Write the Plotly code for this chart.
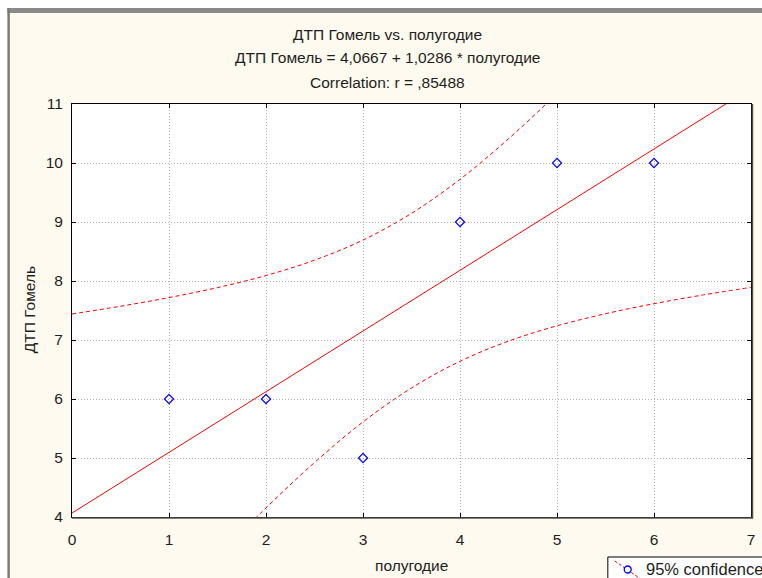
import plotly.graph_objects as go

# ---- data ----
x_points = [1, 2, 3, 4, 5, 6]
y_points = [6, 6, 5, 9, 10, 10]

reg_x = [0, 7]
reg_y = [4.0667, 11.2669]

band_x = [0, 0.5, 1, 1.5, 2, 2.5, 3, 3.5, 4, 4.5, 5, 5.5, 6, 6.5, 7]
band_upper = [7.441, 7.572, 7.719, 7.888, 8.093, 8.353, 8.694, 9.147,
              9.723, 10.410, 11.179, 12.003, 12.862, 13.744, 14.641]
band_lower = [0.692, 1.590, 2.472, 3.331, 4.154, 4.923, 5.611, 6.187,
              6.639, 6.981, 7.240, 7.445, 7.615, 7.762, 7.892]

x_ticks = [0, 1, 2, 3, 4, 5, 6, 7]
y_ticks = [4, 5, 6, 7, 8, 9, 10, 11]

title_lines = ["ДТП Гомель vs. полугодие",
               "ДТП Гомель = 4,0667 + 1,0286 * полугодие",
               "Correlation: r = ,85488"]
x_title = "полугодие"
y_title = "ДТП Гомель"
legend_text = "95% confidence"

# ---- layout geometry (pixels) ----
W, H = 762, 578
L, R, T, B = 72, 755, 104, 517
FONT = "Liberation Sans, Arial, sans-serif"
CREAM = "#fffaef"
TXT = "#1e1e1e"
FS = 15.5


def px(x):
    return (x - L) / (R - L)


def py(y):
    return (B - y) / (B - T)


fig = go.Figure()

band_line = dict(color="#ff0000", width=1, dash="4px,3px", shape="spline")
fig.add_trace(go.Scatter(x=band_x, y=band_upper, mode="lines", line=band_line,
                         hoverinfo="skip", showlegend=False))
fig.add_trace(go.Scatter(x=band_x, y=band_lower, mode="lines", line=band_line,
                         hoverinfo="skip", showlegend=False))
fig.add_trace(go.Scatter(x=reg_x, y=reg_y, mode="lines",
                         line=dict(color="#ff0000", width=1),
                         showlegend=False))
fig.add_trace(go.Scatter(x=x_points, y=y_points, mode="markers",
                         marker=dict(symbol="diamond-open", size=7, color="#0000ff",
                                     line=dict(width=1.2, color="#0000ff")),
                         showlegend=False))

axis_common = dict(showline=True, linecolor="black", linewidth=1, mirror="ticks",
                   ticks="inside", ticklen=4, tickcolor="black",
                   showgrid=True, gridcolor="#b4b4b4", griddash="1px,2px", gridwidth=1,
                   zeroline=False, tickfont=dict(family=FONT, size=FS, color=TXT))

fig.update_layout(
    width=W, height=H,
    margin=dict(l=L, r=W - R, t=T, b=H - B),
    paper_bgcolor=CREAM, plot_bgcolor="white",
    showlegend=False,
    xaxis=dict(range=[0, 7], tickvals=x_ticks, ticklabelstandoff=8, **axis_common),
    yaxis=dict(range=[4, 11], tickvals=y_ticks, ticklabelstandoff=5, **axis_common),
)

shapes = [
    # white outer strips
    dict(type="rect", xref="paper", yref="paper", x0=px(-5), x1=px(W + 5), y0=py(-5), y1=py(8),
         fillcolor="white", line=dict(width=0)),
    dict(type="rect", xref="paper", yref="paper", x0=px(-5), x1=px(7), y0=py(-5), y1=py(H + 5),
         fillcolor="white", line=dict(width=0)),
    # gray frame bar on top and left
    dict(type="rect", xref="paper", yref="paper", x0=px(7), x1=px(W + 5), y0=py(8), y1=py(13),
         fillcolor="#8a8a8a", line=dict(width=0)),
    dict(type="rect", xref="paper", yref="paper", x0=px(7), x1=px(9.5), y0=py(8), y1=py(H + 5),
         fillcolor="#7a7a7a", line=dict(width=0)),
    # shadow on plot frame (bottom / right)
    dict(type="line", xref="paper", yref="paper", x0=px(L), x1=px(R + 2), y0=py(B + 1), y1=py(B + 1),
         line=dict(color="#505050", width=1.5)),
    dict(type="line", xref="paper", yref="paper", x0=px(R + 1.5), x1=px(R + 1.5), y0=py(T), y1=py(B + 1.5),
         line=dict(color="#505050", width=1.5)),
    # legend box
    dict(type="rect", xref="paper", yref="paper", x0=px(611), x1=px(W + 10), y0=py(557), y1=py(H + 10),
         fillcolor="white", line=dict(color="black", width=1)),
    dict(type="line", xref="paper", yref="paper", x0=px(618), x1=px(644), y0=py(561), y1=py(579),
         line=dict(color="#ff0000", width=1, dash="3px,2px")),
    dict(type="circle", xref="paper", yref="paper", x0=px(627.5), x1=px(634.5), y0=py(566), y1=py(573),
         fillcolor="white", line=dict(color="#0000ff", width=1.3)),
]
fig.update_layout(shapes=shapes)

ann = []
for txt, ypx in zip(title_lines, [34, 58, 83]):
    ann.append(dict(text=txt, xref="paper", yref="paper", x=px(389), y=py(ypx),
                    xanchor="center", yanchor="middle", showarrow=False,
                    font=dict(family=FONT, size=FS, color=TXT)))
ann.append(dict(text=x_title, xref="paper", yref="paper", x=px(414), y=py(565),
                xanchor="center", yanchor="middle", showarrow=False,
                font=dict(family=FONT, size=FS, color=TXT)))
ann.append(dict(text=y_title, xref="paper", yref="paper", x=px(29), y=py(310),
                xanchor="center", yanchor="middle", showarrow=False, textangle=-90,
                font=dict(family=FONT, size=FS, color=TXT)))
ann.append(dict(text=legend_text, xref="paper", yref="paper", x=px(647), y=py(569),
                xanchor="left", yanchor="middle", showarrow=False,
                font=dict(family=FONT, size=16.5, color=TXT)))
fig.update_layout(annotations=ann)

fig.write_html("out.html", config={"displayModeBar": False},
               post_script="document.body.style.margin='0';document.body.style.overflow='hidden';")
